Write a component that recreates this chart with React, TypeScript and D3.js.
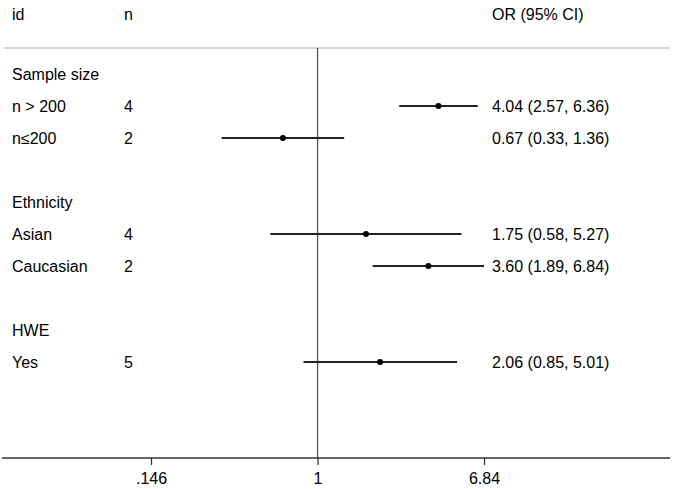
import React, { useEffect, useRef } from 'react';
import * as d3 from 'd3';

// subgroup rows, top to bottom ('' = spacer row)
const rowLabels = ['Sample size', 'n > 200', 'n≤200', '', 'Ethnicity', 'Asian', 'Caucasian', '', 'HWE', 'Yes'];
const counts: (number | null)[] = [null, 4, 2, null, null, 4, 2, null, null, 5];
const oddsRatios: (number | null)[] = [null, 4.04, 0.67, null, null, 1.75, 3.6, null, null, 2.06];
const lowerCI: (number | null)[] = [null, 2.57, 0.33, null, null, 0.58, 1.89, null, null, 0.85];
const upperCI: (number | null)[] = [null, 6.36, 1.36, null, null, 5.27, 6.84, null, null, 5.01];
const xTicks = [0.146, 1, 6.84];
const xTickLabels = ['.146', '1', '6.84'];

const W = 676;
const H = 489;

const App: React.FC = () => {
  const svgRef = useRef<SVGSVGElement>(null);

  useEffect(() => {
    if (!svgRef.current) return;
    const svg = d3.select(svgRef.current);
    svg.selectAll('*').remove();

    const font = 'Liberation Sans, Arial, sans-serif';
    const fs = 16;
    const colId = 12;
    const colN = 124;
    const colEs = 492;

    const x = d3.scaleLog().domain([0.146, 6.84]).range([151, 484]);
    // rows 0..12, row 12 is the axis line
    const y = d3.scaleLinear().domain([0, 12]).range([74, 458]);
    const axisY = y(12);
    const topLineY = 48;

    // header
    const header = svg.append('g')
      .attr('font-family', font)
      .attr('font-size', fs)
      .attr('fill', '#000');
    header.append('text').attr('x', colId).attr('y', 14).attr('dy', '0.36em').text('id');
    header.append('text').attr('x', colN).attr('y', 14).attr('dy', '0.36em').text('n');
    header.append('text').attr('x', colEs).attr('y', 14).attr('dy', '0.36em').text('OR (95% CI)');

    // header rule
    svg.append('line')
      .attr('x1', 4).attr('x2', 670)
      .attr('y1', topLineY).attr('y2', topLineY)
      .attr('stroke', '#c4c4c4')
      .attr('stroke-width', 1.5);

    // null line
    svg.append('line')
      .attr('x1', x(1)).attr('x2', x(1))
      .attr('y1', topLineY).attr('y2', axisY)
      .attr('stroke', '#555')
      .attr('stroke-width', 1.3);

    const rows = rowLabels.map((label, i) => ({
      label,
      n: counts[i],
      or: oddsRatios[i],
      lo: lowerCI[i],
      hi: upperCI[i],
      i,
    }));

    const g = svg.append('g')
      .attr('font-family', font)
      .attr('font-size', fs)
      .attr('fill', '#000');

    g.selectAll('text.label')
      .data(rows.filter(r => r.label))
      .join('text')
      .attr('class', 'label')
      .attr('x', colId)
      .attr('y', d => y(d.i))
      .attr('dy', '0.36em')
      .text(d => d.label);

    const est = rows.filter(r => r.or !== null);

    g.selectAll('text.n')
      .data(est)
      .join('text')
      .attr('class', 'n')
      .attr('x', colN)
      .attr('y', d => y(d.i))
      .attr('dy', '0.36em')
      .text(d => String(d.n));

    g.selectAll('text.es')
      .data(est)
      .join('text')
      .attr('class', 'es')
      .attr('x', colEs)
      .attr('y', d => y(d.i))
      .attr('dy', '0.36em')
      .text(d => `${d.or!.toFixed(2)} (${d.lo!.toFixed(2)}, ${d.hi!.toFixed(2)})`);

    // confidence intervals
    svg.append('g')
      .selectAll('line')
      .data(est)
      .join('line')
      .attr('x1', d => x(d.lo!))
      .attr('x2', d => x(d.hi!))
      .attr('y1', d => y(d.i))
      .attr('y2', d => y(d.i))
      .attr('stroke', '#222')
      .attr('stroke-width', 2);

    // point estimates
    svg.append('g')
      .selectAll('circle')
      .data(est)
      .join('circle')
      .attr('cx', d => x(d.or!))
      .attr('cy', d => y(d.i))
      .attr('r', 3)
      .attr('fill', '#000');

    // x axis
    svg.append('line')
      .attr('x1', 2).attr('x2', 670)
      .attr('y1', axisY).attr('y2', axisY)
      .attr('stroke', '#333')
      .attr('stroke-width', 1.3);

    const axis = svg.append('g')
      .attr('transform', `translate(0,${axisY})`)
      .call(
        d3.axisBottom(x)
          .tickValues(xTicks)
          .tickFormat((_, i) => xTickLabels[i])
          .tickSize(7)
          .tickPadding(8)
      );
    axis.select('.domain').remove();
    axis.selectAll('.tick line').attr('stroke', '#333').attr('stroke-width', 1.3);
    axis.selectAll('.tick text')
      .attr('font-family', font)
      .attr('font-size', fs)
      .attr('fill', '#000');
  }, []);

  return (
    <div style={{ position: 'fixed', left: 0, top: 0, width: W, height: H, background: '#fff' }}>
      <svg ref={svgRef} width={W} height={H} style={{ display: 'block' }} />
    </div>
  );
};

export default App;
